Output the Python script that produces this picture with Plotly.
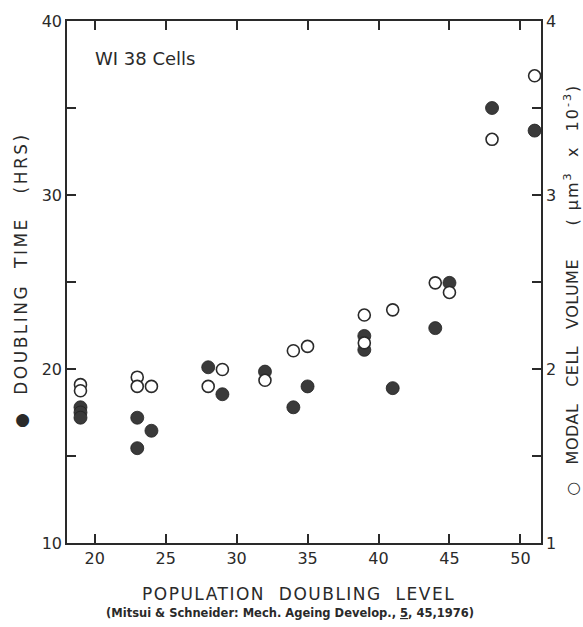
import plotly.graph_objects as go

# Filled circles: doubling time (hrs), left axis
pdl_dt = [19, 19, 19, 23, 23, 24, 28, 29, 32, 34, 35, 39, 39, 41, 44, 45, 48, 51]
doubling_time = [17.8, 17.5, 17.2, 17.2, 15.45, 16.45, 20.1, 18.55, 19.85, 17.8, 19.0,
                 21.9, 21.1, 18.9, 22.35, 24.95, 35.0, 33.7]

# Open circles: modal cell volume (um^3 x 10^-3), right axis
pdl_cv = [19, 19, 23, 23, 24, 28, 29, 32, 34, 35, 39, 39, 41, 44, 45, 48, 51]
cell_volume = [1.91, 1.875, 1.953, 1.90, 1.90, 1.90, 1.997, 1.935, 2.105, 2.13,
               2.31, 2.15, 2.34, 2.495, 2.44, 3.32, 3.685]

x_ticks = [20, 25, 30, 35, 40, 45, 50]
y_left_ticks = [10, 15, 20, 25, 30, 35, 40]
y_left_text = ["10", "", "20", "", "30", "", "40"]
y_right_ticks = [1, 1.5, 2, 2.5, 3, 3.5, 4]
y_right_text = ["1", "", "2", "", "3", "", "4"]

ink = "#2a2a2a"
font = "DejaVu Sans"

fig = go.Figure()
fig.add_trace(go.Scatter(
    x=pdl_cv, y=cell_volume, mode="markers", yaxis="y2",
    marker=dict(symbol="circle", size=12, color="white",
                line=dict(color=ink, width=1.6)),
    showlegend=False))
fig.add_trace(go.Scatter(
    x=pdl_dt, y=doubling_time, mode="markers",
    marker=dict(symbol="circle", size=13, color="#3a3a3a",
                line=dict(color="#222222", width=0.8)),
    showlegend=False))

axis_common = dict(showgrid=False, zeroline=False, ticks="inside", ticklen=9,
                   tickwidth=1.5, tickcolor=ink, linecolor=ink, linewidth=1.5,
                   showline=True, tickfont=dict(family=font, size=16, color=ink))

fig.update_layout(
    width=583, height=627,
    margin=dict(l=67, r=42, t=17, b=84),
    paper_bgcolor="white", plot_bgcolor="white",
    xaxis=dict(range=[18.05, 51.45], tickvals=x_ticks, mirror="ticks", **axis_common),
    yaxis=dict(range=[10, 40], tickvals=y_left_ticks, ticktext=y_left_text, **axis_common),
    yaxis2=dict(range=[1, 4], tickvals=y_right_ticks, ticktext=y_right_text,
                overlaying="y", side="right", **axis_common),
)

nb = "\u00a0"


def spaced(s, ls):
    return "<span style='letter-spacing:%spx'>%s</span>" % (ls, s)


left_title = spaced("●" + nb * 2 + "DOUBLING" + nb * 2 + "TIME" + nb * 3 + "(HRS)", 2.5)
right_title = (spaced("○" + nb * 3 + "MODAL" + nb * 3 + "CELL" + nb * 3 + "VOLUME" + nb * 6, 0.5) +
               spaced("(" + nb + "μm<sup>3</sup>" + nb * 2 + "x" + nb * 2 +
                      "10<sup>-3</sup>)", 2))
x_title = spaced("POPULATION" + nb * 2 + "DOUBLING" + nb * 2 + "LEVEL", 1.5)

annos = [
    dict(x=-0.096, y=0.505, text=left_title, textangle=-90,
         font=dict(family=font, size=17, color=ink)),
    dict(x=1.065, y=0.485, text=right_title, textangle=-90,
         font=dict(family=font, size=16, color=ink)),
    dict(x=0.055, y=0.929, text="WI 38" + nb + "Cells", xanchor="left",
         font=dict(family=font, size=18, color=ink)),
    dict(x=0.488, y=-0.097, text=x_title,
         font=dict(family=font, size=17, color=ink)),
    dict(x=0.47, y=-0.135,
         text="<b>(Mitsui & Schneider: Mech. Ageing Develop., "
              "<span style='text-decoration:underline'>5</span>, 45,1976)</b>",
         font=dict(family=font, size=11.5, color=ink)),
]
for a in annos:
    a.setdefault("xanchor", "center")
    fig.add_annotation(xref="paper", yref="paper", showarrow=False,
                       yanchor="middle", **a)

fig.write_html("out.html")
